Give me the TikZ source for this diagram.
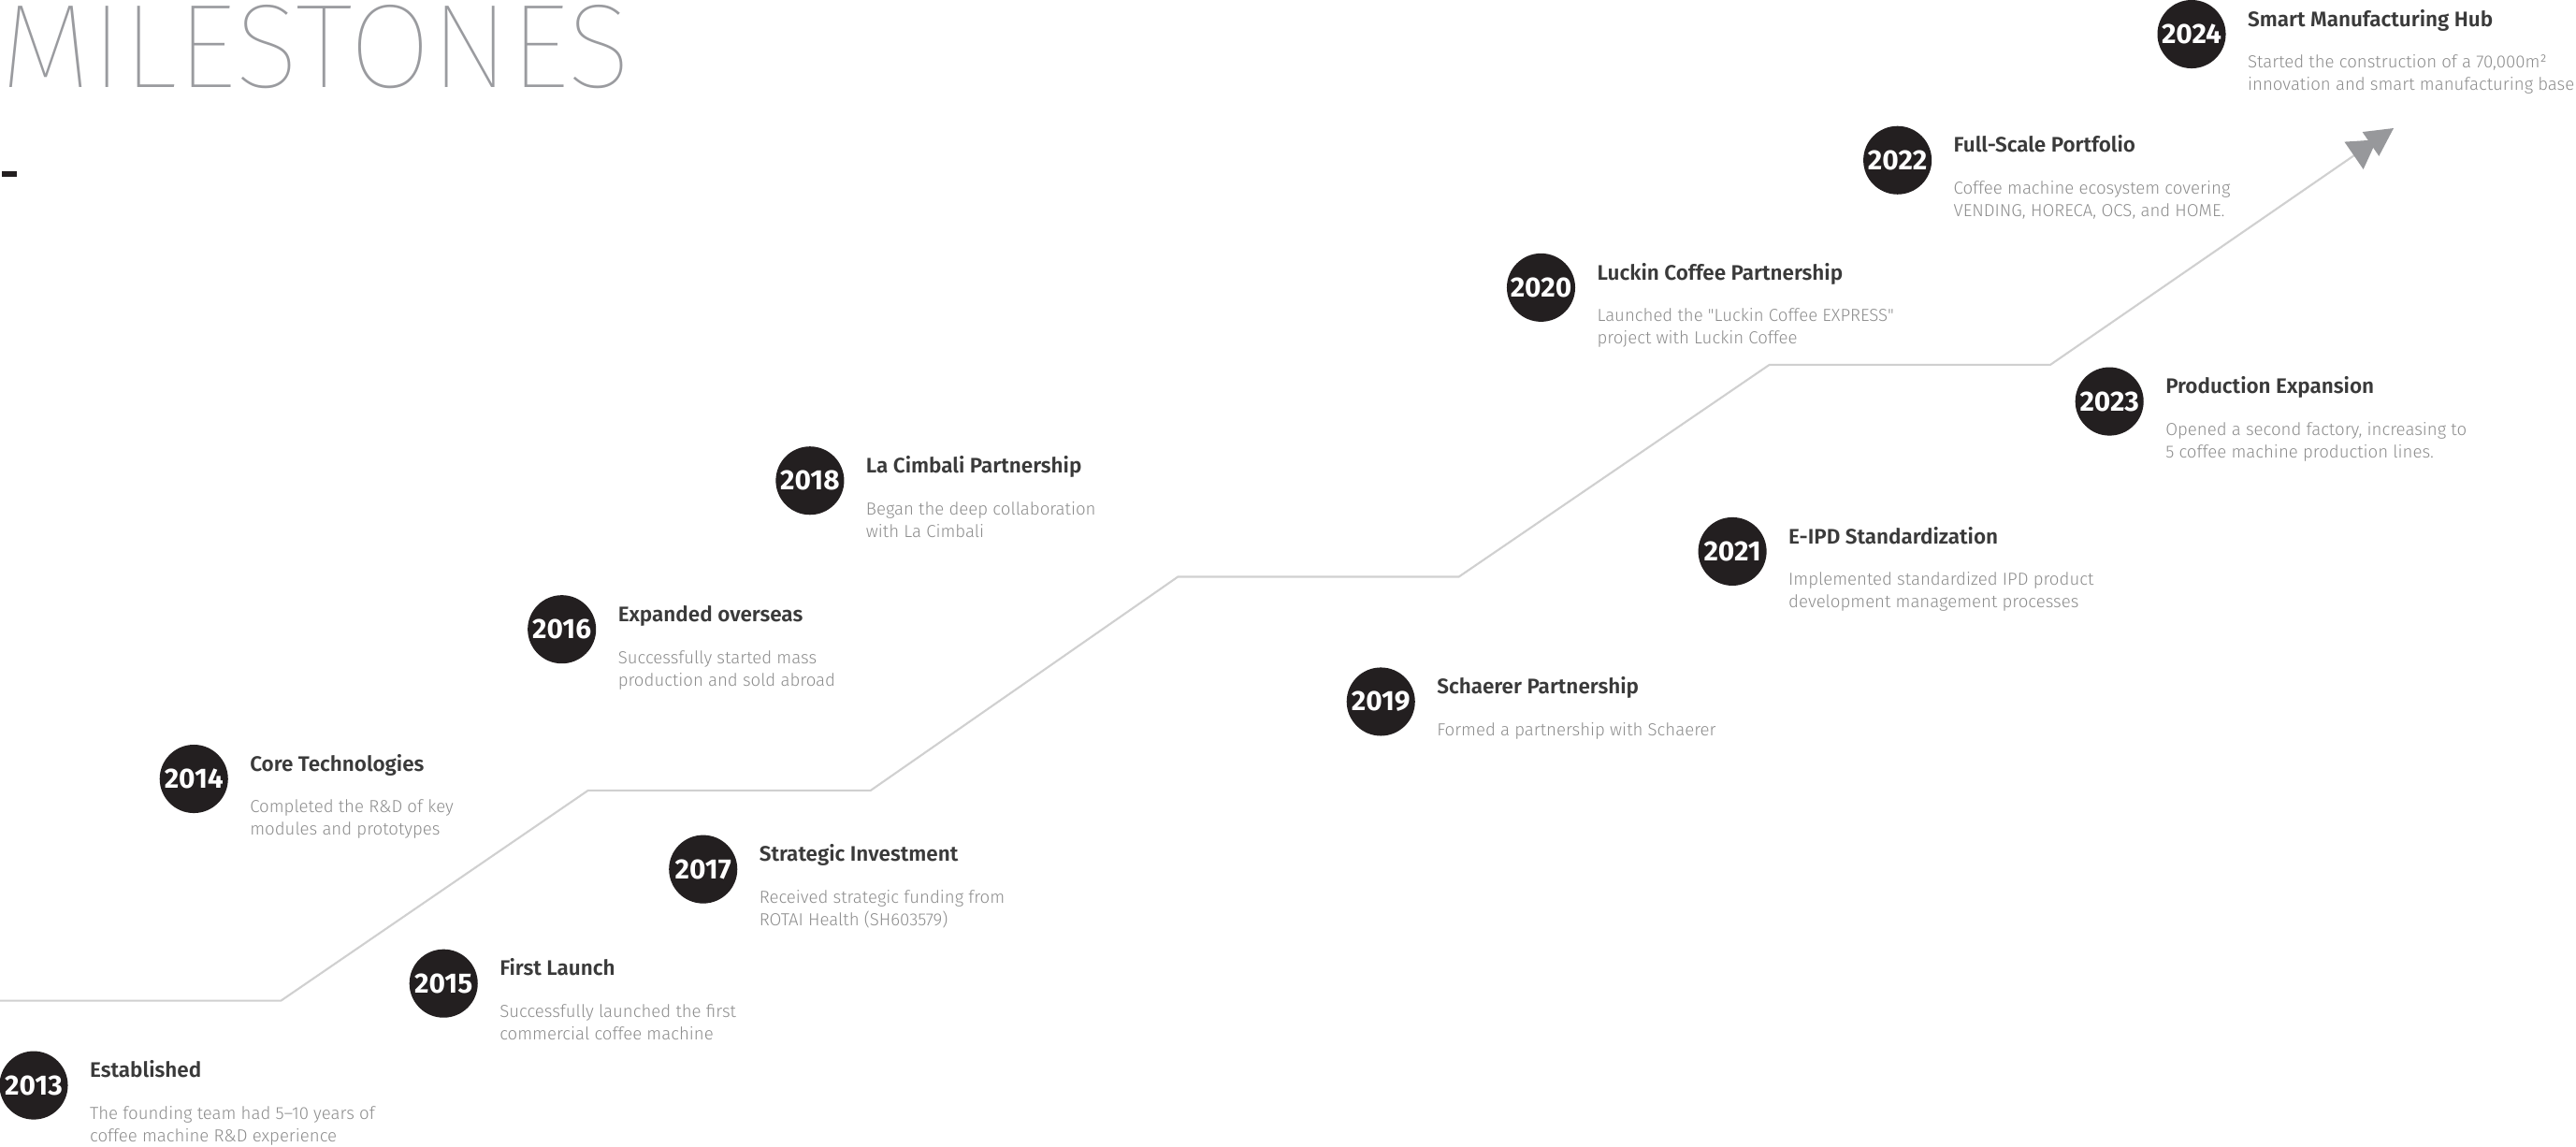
\documentclass[tikz,border=0pt]{standalone}
\usepackage{fontspec}
\usepackage{xcolor}
\usepackage{tikz}
\usetikzlibrary{arrows.meta}
\IfFontExistsTF{Fira Sans Thin}{\newfontfamily\thinfont{Fira Sans Thin}}{%
  \IfFontExistsTF{Fira Sans ExtraLight}{\newfontfamily\thinfont{Fira Sans ExtraLight}}{%
    \IfFontExistsTF{Fira Sans Light}{\newfontfamily\thinfont{Fira Sans Light}}{\newfontfamily\thinfont{Fira Sans}}}}
\IfFontExistsTF{Fira Sans Light}{\newfontfamily\lightfont{Fira Sans Light}}{\newfontfamily\lightfont{Fira Sans}}
\newfontfamily\firafont{Fira Sans}
\IfFontExistsTF{Fira Sans SemiBold}{\newfontfamily\semifont{Fira Sans SemiBold}}{\newcommand\semifont{\firafont\bfseries}}
\newcommand\yearfont{\firafont\bfseries}
\definecolor{dotblack}{HTML}{231F20}
\definecolor{headgray}{HTML}{3A3A3A}
\definecolor{textgray}{HTML}{8C8C8C}
\definecolor{bannergray}{HTML}{9A9B9F}
\definecolor{linegray}{HTML}{D0D0D0}
\definecolor{tipgray}{HTML}{97989B}
\tikzset{
    year-dot/.style = {circle, fill=dotblack, text=white, minimum size=41.6pt, inner sep=0pt, outer sep=0pt, font=\yearfont\fontsize{17}{17}\selectfont},
    milestone-title/.style = {text=headgray, inner sep=0pt, anchor=base west, font=\semifont\fontsize{12.8}{14}\selectfont},
    milestone-text/.style = {text=textgray, inner sep=0pt, anchor=base west, align=left, font=\lightfont\fontsize{10.6}{13.7}\selectfont},
    timeline/.style = {draw=linegray, line width=1.2pt, -{Triangle[length=17pt,width=20pt,sep=-4.6pt,color=tipgray] Triangle[length=17pt,width=17.5pt,color=tipgray]}},
}

\begin{document}
\begin{tikzpicture}[x=1pt, y=-1pt]
\useasboundingbox (0,0) rectangle (1568,698);
\node[text=bannergray, inner sep=0pt, anchor=base west, font=\thinfont\fontsize{72.6}{72.6}\selectfont] (banner) at (0,53) {MILESTONES};
\fill[dotblack] (1,104) rectangle (10,107.5);
\draw[timeline] (0,609) -- (171,609) -- (358,481) -- (530,481) -- (717,351) -- (888,351) -- (1077,222) -- (1248,222) -- (1457,78);

\node[year-dot] (y2013) at (20.5,660.5) {2013};
\node[milestone-title] (t2013) at ([xshift=13.2pt, yshift=4.7pt]y2013.east) {Established};
\node[milestone-text] (d2013) at ([yshift=-39.1pt]t2013.base west) {The founding team had 5–10 years of\\coffee machine R\&D experience};

\node[year-dot] (y2014) at (118,474) {2014};
\node[milestone-title] (t2014) at ([xshift=13.2pt, yshift=4.7pt]y2014.east) {Core Technologies};
\node[milestone-text] (d2014) at ([yshift=-39.1pt]t2014.base west) {Completed the R\&D of key\\modules and prototypes};

\node[year-dot] (y2015) at (270,598.5) {2015};
\node[milestone-title] (t2015) at ([xshift=13.2pt, yshift=4.7pt]y2015.east) {First Launch};
\node[milestone-text] (d2015) at ([yshift=-39.1pt]t2015.base west) {Successfully launched the first\\commercial coffee machine};

\node[year-dot] (y2016) at (342,383) {2016};
\node[milestone-title] (t2016) at ([xshift=13.2pt, yshift=4.7pt]y2016.east) {Expanded overseas};
\node[milestone-text] (d2016) at ([yshift=-39.1pt]t2016.base west) {Successfully started mass\\production and sold abroad};

\node[year-dot] (y2017) at (428,529) {2017};
\node[milestone-title] (t2017) at ([xshift=13.2pt, yshift=4.7pt]y2017.east) {Strategic Investment};
\node[milestone-text] (d2017) at ([yshift=-39.1pt]t2017.base west) {Received strategic funding from\\ROTAI Health (SH603579)};

\node[year-dot] (y2018) at (493,292.5) {2018};
\node[milestone-title] (t2018) at ([xshift=13.2pt, yshift=4.7pt]y2018.east) {La Cimbali Partnership};
\node[milestone-text] (d2018) at ([yshift=-39.1pt]t2018.base west) {Began the deep collaboration\\with La Cimbali};

\node[year-dot] (y2019) at (840.5,427) {2019};
\node[milestone-title] (t2019) at ([xshift=13.2pt, yshift=4.7pt]y2019.east) {Schaerer Partnership};
\node[milestone-text] (d2019) at ([yshift=-25.4pt]t2019.base west) {Formed a partnership with Schaerer};

\node[year-dot] (y2020) at (938,175) {2020};
\node[milestone-title] (t2020) at ([xshift=13.2pt, yshift=4.7pt]y2020.east) {Luckin Coffee Partnership};
\node[milestone-text] (d2020) at ([yshift=-39.1pt]t2020.base west) {Launched the "Luckin Coffee EXPRESS"\\project with Luckin Coffee};

\node[year-dot] (y2021) at (1054.5,335.6) {2021};
\node[milestone-title] (t2021) at ([xshift=13.2pt, yshift=4.7pt]y2021.east) {E-IPD Standardization};
\node[milestone-text] (d2021) at ([yshift=-39.1pt]t2021.base west) {Implemented standardized IPD product\\development management processes};

\node[year-dot] (y2022) at (1155,97.5) {2022};
\node[milestone-title] (t2022) at ([xshift=13.2pt, yshift=4.7pt]y2022.east) {Full-Scale Portfolio};
\node[milestone-text] (d2022) at ([yshift=-39.1pt]t2022.base west) {Coffee machine ecosystem covering\\VENDING, HORECA, OCS, and HOME.};

\node[year-dot] (y2023) at (1284,244.3) {2023};
\node[milestone-title] (t2023) at ([xshift=13.2pt, yshift=4.7pt]y2023.east) {Production Expansion};
\node[milestone-text] (d2023) at ([yshift=-39.1pt]t2023.base west) {Opened a second factory, increasing to\\5 coffee machine production lines.};

\node[year-dot] (y2024) at (1334,20.8) {2024};
\node[milestone-title] (t2024) at ([xshift=13.2pt, yshift=4.7pt]y2024.east) {Smart Manufacturing Hub};
\node[milestone-text] (d2024) at ([yshift=-39.1pt]t2024.base west) {Started the construction of a 70,000m²\\innovation and smart manufacturing base};
\end{tikzpicture}
\end{document}
